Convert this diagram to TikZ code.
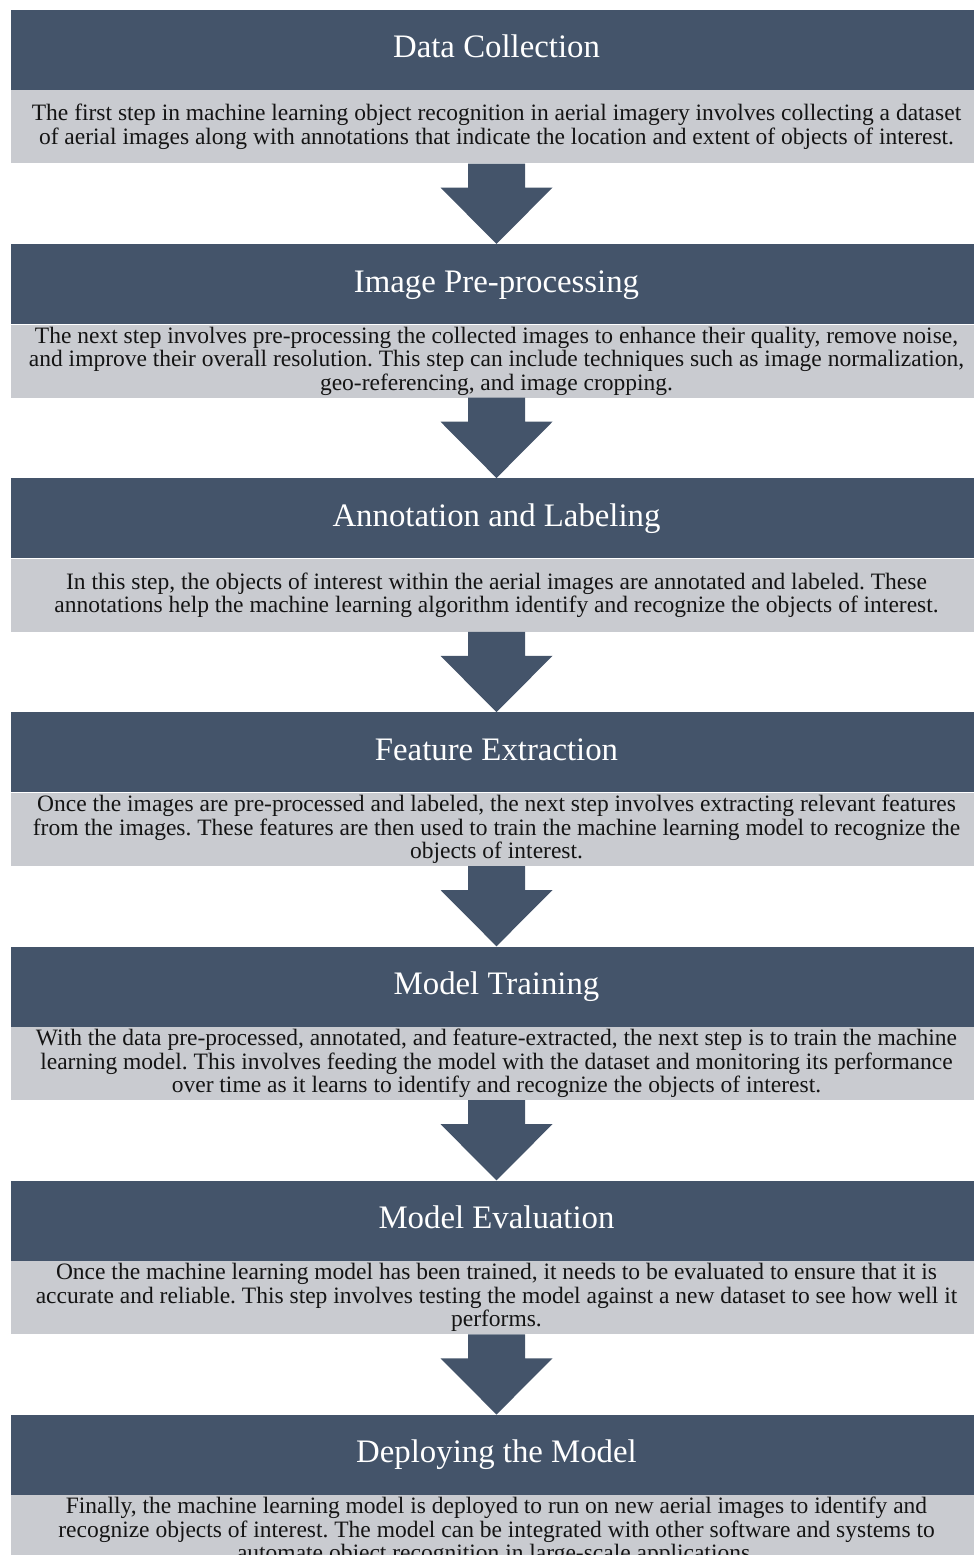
\documentclass[tikz,border=0pt]{standalone}
\usepackage{fontspec}
\setmainfont{Liberation Serif}
\usetikzlibrary{positioning,calc}
\definecolor{cHead}{HTML}{44546A}
\definecolor{cBody}{HTML}{C9CBD0}
\definecolor{cText}{HTML}{141414}
\frenchspacing

\begin{document}
\begin{tikzpicture}[x=1pt,y=1pt,
  head/.style={fill=cHead,text=white,minimum width=971pt,minimum height=80pt,
    inner sep=0,text height=22pt,text depth=6pt,font=\fontsize{32.8}{36}\selectfont},
  body/.style={fill=cBody,text=cText,minimum width=971pt,minimum height=73pt,
    inner sep=0,align=center,font=\fontsize{23.5}{23.5}\selectfont},
  stepArrow/.style={fill=cHead},
  node distance=0pt and 0pt]
  \useasboundingbox (0,0) rectangle (974,-1555);
  \clip (0,0) rectangle (974,-1555);

  \node[head] (h1) at (496.5,-50) {Data Collection};
  \node[body,below=of h1] (b1) {The first step in machine learning object recognition in aerial imagery involves collecting a dataset\\
    of aerial images along with annotations that indicate the location and extent of objects of interest.};

  \node[head,below=80.33pt of b1] (h2) {Image Pre-processing};
  \node[body,below=of h2] (b2) {The next step involves pre-processing the collected images to enhance their quality, remove noise,\\
    and improve their overall resolution. This step can include techniques such as image normalization,\\
    geo-referencing, and image cropping.};

  \node[head,below=80.33pt of b2] (h3) {Annotation and Labeling};
  \node[body,below=of h3] (b3) {In this step, the objects of interest within the aerial images are annotated and labeled. These\\
    annotations help the machine learning algorithm identify and recognize the objects of interest.};

  \node[head,below=80.33pt of b3] (h4) {Feature Extraction};
  \node[body,below=of h4] (b4) {Once the images are pre-processed and labeled, the next step involves extracting relevant features\\
    from the images. These features are then used to train the machine learning model to recognize the\\
    objects of interest.};

  \node[head,below=80.33pt of b4] (h5) {Model Training};
  \node[body,below=of h5] (b5) {With the data pre-processed, annotated, and feature-extracted, the next step is to train the machine\\
    learning model. This involves feeding the model with the dataset and monitoring its performance\\
    over time as it learns to identify and recognize the objects of interest.};

  \node[head,below=80.33pt of b5] (h6) {Model Evaluation};
  \node[body,below=of h6] (b6) {Once the machine learning model has been trained, it needs to be evaluated to ensure that it is\\
    accurate and reliable. This step involves testing the model against a new dataset to see how well it\\
    performs.};

  \node[head,below=80.33pt of b6] (h7) {Deploying the Model};
  \node[body,below=of h7] (b7) {Finally, the machine learning model is deployed to run on new aerial images to identify and\\
    recognize objects of interest. The model can be integrated with other software and systems to\\
    automate object recognition in large-scale applications.};

  % block arrows between the steps
  \foreach \i/\j in {1/2,2/3,3/4,4/5,5/6,6/7}
    \fill[stepArrow] ($(b\i.south)+(-28.5,0)$) -- ($(b\i.south)+(28.5,0)$)
      -- ($(b\i.south)+(28.5,-24)$) -- ($(b\i.south)+(56,-24)$) -- (h\j.north)
      -- ($(b\i.south)+(-56,-24)$) -- ($(b\i.south)+(-28.5,-24)$) -- cycle;
\end{tikzpicture}
\end{document}
